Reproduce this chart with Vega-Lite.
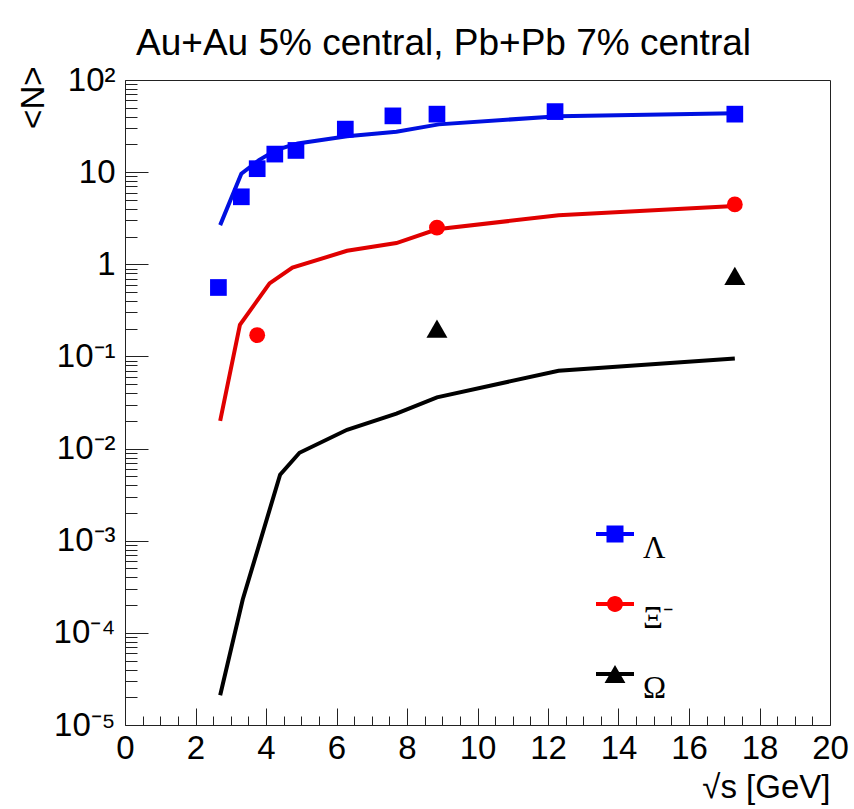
{
  "$schema": "https://vega.github.io/schema/vega-lite/v6.json",
  "width": 705,
  "height": 645,
  "autosize": {"type": "none"},
  "padding": {"left": 125, "top": 80, "right": 24, "bottom": 84},
  "background": "white",
  "title": {
    "text": "Au+Au 5% central, Pb+Pb 7% central",
    "font": "Liberation Sans",
    "fontSize": 37,
    "fontWeight": "normal",
    "color": "black",
    "anchor": "middle",
    "frame": "group",
    "baseline": "alphabetic",
    "offset": 22,
    "dx": -34,
    "dy": 50
  },
  "config": {
    "view": {"stroke": "#222", "strokeWidth": 1},
    "axis": {
      "domain": false,
      "grid": false,
      "tickColor": "#222",
      "tickWidth": 1,
      "labelFont": "Liberation Sans",
      "labelFontSize": 33,
      "labelColor": "black",
      "labelOverlap": false,
      "labelFlush": false,
      "labelBound": false,
      "titleFont": "Liberation Sans",
      "titleFontSize": 33,
      "titleFontWeight": "normal",
      "titleColor": "black"
    }
  },
  "datasets": {
    "pts": [
      {"particle": "Λ", "sqrts": 2.65, "N": 0.56},
      {"particle": "Λ", "sqrts": 3.3, "N": 5.4},
      {"particle": "Λ", "sqrts": 3.75, "N": 10.9},
      {"particle": "Λ", "sqrts": 4.25, "N": 15.7},
      {"particle": "Λ", "sqrts": 4.85, "N": 17.2},
      {"particle": "Λ", "sqrts": 6.25, "N": 29.3},
      {"particle": "Λ", "sqrts": 7.6, "N": 40.8},
      {"particle": "Λ", "sqrts": 8.85, "N": 42.6},
      {"particle": "Λ", "sqrts": 12.2, "N": 45.4},
      {"particle": "Λ", "sqrts": 17.3, "N": 42.6},
      {"particle": "Ξ⁻", "sqrts": 3.75, "N": 0.17},
      {"particle": "Ξ⁻", "sqrts": 8.85, "N": 2.5},
      {"particle": "Ξ⁻", "sqrts": 17.3, "N": 4.46},
      {"particle": "Ω", "sqrts": 8.85, "N": 0.2},
      {"particle": "Ω", "sqrts": 17.3, "N": 0.75}
    ],
    "model": [
      {"particle": "Λ", "sqrts": 2.7, "N": 2.66},
      {"particle": "Λ", "sqrts": 3.3, "N": 9.6},
      {"particle": "Λ", "sqrts": 3.8, "N": 13.5},
      {"particle": "Λ", "sqrts": 4.3, "N": 17.5},
      {"particle": "Λ", "sqrts": 4.9, "N": 20.5},
      {"particle": "Λ", "sqrts": 6.3, "N": 24.5},
      {"particle": "Λ", "sqrts": 7.7, "N": 27.5},
      {"particle": "Λ", "sqrts": 8.9, "N": 33},
      {"particle": "Λ", "sqrts": 12.3, "N": 40.5},
      {"particle": "Λ", "sqrts": 17.3, "N": 43.5},
      {"particle": "Ξ⁻", "sqrts": 2.7, "N": 0.02},
      {"particle": "Ξ⁻", "sqrts": 3.26, "N": 0.22},
      {"particle": "Ξ⁻", "sqrts": 4.1, "N": 0.62},
      {"particle": "Ξ⁻", "sqrts": 4.75, "N": 0.92},
      {"particle": "Ξ⁻", "sqrts": 6.3, "N": 1.4},
      {"particle": "Ξ⁻", "sqrts": 7.7, "N": 1.7},
      {"particle": "Ξ⁻", "sqrts": 8.85, "N": 2.4},
      {"particle": "Ξ⁻", "sqrts": 12.3, "N": 3.4},
      {"particle": "Ξ⁻", "sqrts": 17.3, "N": 4.3},
      {"particle": "Ω", "sqrts": 2.7, "N": 0.000021},
      {"particle": "Ω", "sqrts": 3.34, "N": 0.00023},
      {"particle": "Ω", "sqrts": 4.4, "N": 0.0052},
      {"particle": "Ω", "sqrts": 4.95, "N": 0.009},
      {"particle": "Ω", "sqrts": 6.3, "N": 0.016},
      {"particle": "Ω", "sqrts": 7.7, "N": 0.024},
      {"particle": "Ω", "sqrts": 8.85, "N": 0.036},
      {"particle": "Ω", "sqrts": 12.3, "N": 0.07},
      {"particle": "Ω", "sqrts": 17.3, "N": 0.095}
    ]
  },
  "encoding": {
    "x": {
      "field": "sqrts",
      "type": "quantitative",
      "scale": {"domain": [0, 20], "nice": false, "zero": false},
      "axis": {
        "title": "√s [GeV]",
        "values": [0, 0.5, 1, 1.5, 2, 2.5, 3, 3.5, 4, 4.5, 5, 5.5, 6, 6.5, 7, 7.5, 8, 8.5, 9, 9.5, 10, 10.5, 11, 11.5, 12, 12.5, 13, 13.5, 14, 14.5, 15, 15.5, 16, 16.5, 17, 17.5, 18, 18.5, 19, 19.5, 20],
        "labelExpr": "datum.value % 2 == 0 ? format(datum.value, 'd') : ''",
        "tickSize": {"condition": {"test": "datum.value % 2 == 0", "value": -17}, "value": -9},
        "labelPadding": 24,
        "titleAnchor": "end",
        "titleAlign": "right",
        "titleBaseline": "alphabetic",
        "titleX": 705,
        "titleY": 72
      }
    },
    "y": {
      "field": "N",
      "type": "quantitative",
      "scale": {"type": "log", "domain": [0.00001, 100], "nice": false},
      "axis": {
        "title": "<N>",
        "values": [0.00001, 0.00002, 0.00003, 0.00004, 0.00005, 0.00006, 0.00007, 0.00008, 0.00009, 0.0001, 0.0002, 0.0003, 0.0004, 0.0005, 0.0006, 0.0007, 0.0008, 0.0009, 0.001, 0.002, 0.003, 0.004, 0.005, 0.006, 0.007, 0.008, 0.009, 0.01, 0.02, 0.03, 0.04, 0.05, 0.06, 0.07, 0.08, 0.09, 0.1, 0.2, 0.3, 0.4, 0.5, 0.6, 0.7, 0.8, 0.9, 1, 2, 3, 4, 5, 6, 7, 8, 9, 10, 20, 30, 40, 50, 60, 70, 80, 90, 100],
        "labelExpr": "datum.value == 100 ? '10²' : datum.value == 10 ? '10' : datum.value == 1 ? '1' : datum.value == 0.1 ? '10⁻¹' : datum.value == 0.01 ? '10⁻²' : datum.value == 0.001 ? '10⁻³' : datum.value == 0.0001 ? '10⁻⁴' : datum.value == 0.00001 ? '10⁻⁵' : ''",
        "tickSize": {"condition": {"test": "indexof([0.00001, 0.0001, 0.001, 0.01, 0.1, 1, 10, 100], datum.value) >= 0", "value": -23}, "value": -12},
        "labelPadding": 33,
        "titleAngle": 270,
        "titleAlign": "right",
        "titleBaseline": "middle",
        "titleX": -92,
        "titleY": -14
      }
    }
  },
  "layer": [
    {
      "data": {"name": "model"},
      "mark": {"type": "line", "strokeWidth": 4},
      "encoding": {
        "color": {
          "field": "particle",
          "type": "nominal",
          "scale": {"domain": ["Λ", "Ξ⁻", "Ω"], "range": ["#0010e0", "#e00000", "#000000"]},
          "legend": null
        }
      }
    },
    {
      "data": {"name": "pts"},
      "transform": [{"filter": "datum.particle == 'Λ'"}],
      "mark": {"type": "point", "shape": "square", "filled": true, "size": 279, "color": "#0000ff", "opacity": 1}
    },
    {
      "data": {"name": "pts"},
      "transform": [{"filter": "datum.particle == 'Ξ⁻'"}],
      "mark": {"type": "point", "shape": "circle", "filled": true, "size": 250, "color": "#ff0000", "opacity": 1}
    },
    {
      "data": {"name": "pts"},
      "transform": [{"filter": "datum.particle == 'Ω'"}],
      "mark": {"type": "point", "shape": "triangle-up", "filled": true, "size": 440, "color": "#000000", "opacity": 1}
    },
    {
      "data": {"name": "pts"},
      "transform": [{"filter": "false"}],
      "mark": {"type": "point", "filled": true},
      "encoding": {
        "color": {
          "field": "particle",
          "type": "nominal",
          "scale": {"domain": ["Λ", "Ξ⁻", "Ω"], "range": ["#0000ff", "#ff0000", "#000000"]},
          "legend": {
            "title": null,
            "orient": "none",
            "legendX": 471,
            "legendY": 435,
            "padding": 0,
            "symbolSize": 1444,
            "symbolStrokeWidth": 0,
            "symbolOpacity": 1,
            "labelFont": "Liberation Serif",
            "labelFontSize": 31,
            "labelColor": "black",
            "labelOffset": 9,
            "labelBaseline": "top",
            "rowPadding": 21
          }
        },
        "shape": {
          "field": "particle",
          "type": "nominal",
          "scale": {
            "domain": ["Λ", "Ξ⁻", "Ω"],
            "range": [
              "M-1,-0.105H1V0.105H-1Z M-0.447,-0.447H0.447V0.447H-0.447Z",
              "M-1,-0.105H1V0.105H-1Z M-0.42,0A0.42,0.42 0 1,1 0.42,0A0.42,0.42 0 1,1 -0.42,0Z",
              "M-1,-0.105H1V0.105H-1Z M0,-0.47L0.55,0.47L-0.55,0.47Z"
            ]
          },
          "legend": {
            "title": null,
            "orient": "none",
            "legendX": 471,
            "legendY": 435,
            "padding": 0,
            "symbolSize": 1444,
            "symbolStrokeWidth": 0,
            "symbolOpacity": 1,
            "labelFont": "Liberation Serif",
            "labelFontSize": 31,
            "labelColor": "black",
            "labelOffset": 9,
            "labelBaseline": "top",
            "rowPadding": 21
          }
        }
      }
    }
  ],
  "resolve": {"scale": {"color": "independent", "shape": "independent"}}
}
